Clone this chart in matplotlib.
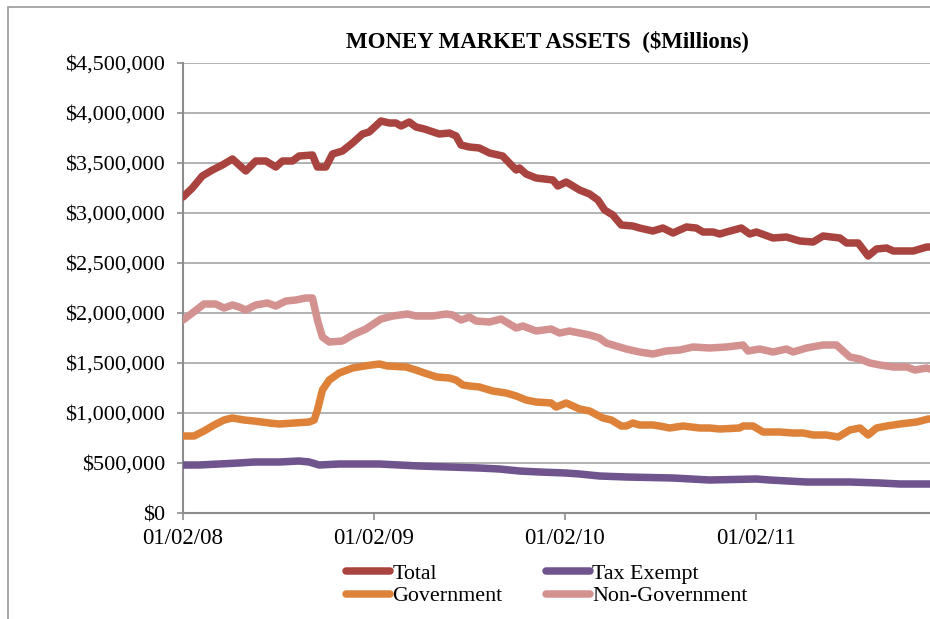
import matplotlib
matplotlib.use("Agg")
import matplotlib.pyplot as plt
from matplotlib.ticker import FuncFormatter, FixedLocator
from matplotlib.patches import Rectangle

plt.rcParams['font.family'] = ['Liberation Serif', 'DejaVu Serif']

# ---------------- data (x = decimal year, y = axis value / 1e6)
title = "MONEY MARKET ASSETS  ($Millions)"
x_ticks = [2008.0, 2009.0, 2010.0, 2011.0]
x_tick_labels = ["01/02/08", "01/02/09", "01/02/10", "01/02/11"]
y_ticks = [0, 0.5, 1.0, 1.5, 2.0, 2.5, 3.0, 3.5, 4.0, 4.5]

total_t = [2008.000, 2008.049, 2008.101, 2008.154, 2008.206, 2008.259, 2008.329, 2008.381,
           2008.434, 2008.486, 2008.521, 2008.573, 2008.608, 2008.678, 2008.704, 2008.748,
           2008.783, 2008.835, 2008.888, 2008.940, 2008.975, 2009.037, 2009.080, 2009.115,
           2009.142, 2009.185, 2009.220, 2009.264, 2009.342, 2009.395, 2009.430, 2009.456,
           2009.500, 2009.552, 2009.605, 2009.674, 2009.709, 2009.745, 2009.762, 2009.797,
           2009.849, 2009.937, 2009.963, 2010.007, 2010.077, 2010.129, 2010.173, 2010.208,
           2010.251, 2010.295, 2010.356, 2010.391, 2010.461, 2010.513, 2010.566, 2010.636,
           2010.688, 2010.723, 2010.776, 2010.811, 2010.846, 2010.924, 2010.968, 2011.003,
           2011.090, 2011.160, 2011.230, 2011.300, 2011.352, 2011.440, 2011.475, 2011.536,
           2011.588, 2011.632, 2011.685, 2011.720, 2011.824, 2011.895, 2011.912]
total_v = [3.16, 3.25, 3.37, 3.43, 3.48, 3.54, 3.42, 3.52,
           3.52, 3.46, 3.52, 3.52, 3.57, 3.58, 3.46, 3.46,
           3.59, 3.62, 3.70, 3.79, 3.81, 3.92, 3.90, 3.90,
           3.87, 3.91, 3.86, 3.84, 3.79, 3.80, 3.77, 3.68,
           3.66, 3.65, 3.60, 3.57, 3.50, 3.43, 3.45, 3.39,
           3.35, 3.33, 3.27, 3.31, 3.23, 3.19, 3.13, 3.03,
           2.98, 2.88, 2.87, 2.85, 2.82, 2.85, 2.80, 2.86,
           2.85, 2.81, 2.81, 2.79, 2.81, 2.85, 2.79, 2.81,
           2.75, 2.76, 2.72, 2.71, 2.77, 2.75, 2.70, 2.70,
           2.57, 2.64, 2.65, 2.62, 2.62, 2.66, 2.66]

taxex_t = [2008.000, 2008.084, 2008.189, 2008.294, 2008.372, 2008.503, 2008.608, 2008.661,
           2008.713, 2008.818, 2008.923, 2009.028, 2009.133, 2009.238, 2009.395, 2009.552,
           2009.657, 2009.762, 2009.867, 2010.003, 2010.077, 2010.181, 2010.321, 2010.566,
           2010.758, 2011.003, 2011.073, 2011.265, 2011.492, 2011.650, 2011.755, 2011.912]
taxex_v = [0.48, 0.48, 0.49, 0.50, 0.51, 0.51, 0.52, 0.51,
           0.48, 0.49, 0.49, 0.49, 0.48, 0.47, 0.46, 0.45,
           0.44, 0.42, 0.41, 0.40, 0.39, 0.37, 0.36, 0.35,
           0.33, 0.34, 0.33, 0.31, 0.31, 0.30, 0.29, 0.29]

gov_t = [2008.000, 2008.058, 2008.110, 2008.163, 2008.215, 2008.257, 2008.320, 2008.372,
         2008.451, 2008.503, 2008.582, 2008.661, 2008.687, 2008.704, 2008.730, 2008.766,
         2008.818, 2008.888, 2008.949, 2009.028, 2009.071, 2009.168, 2009.220, 2009.264,
         2009.329, 2009.395, 2009.430, 2009.465, 2009.500, 2009.552, 2009.622, 2009.692,
         2009.745, 2009.797, 2009.849, 2009.928, 2009.954, 2010.007, 2010.077, 2010.129,
         2010.199, 2010.243, 2010.295, 2010.321, 2010.356, 2010.391, 2010.461, 2010.496,
         2010.548, 2010.583, 2010.618, 2010.706, 2010.758, 2010.811, 2010.915, 2010.933,
         2010.985, 2011.038, 2011.125, 2011.195, 2011.248, 2011.300, 2011.370, 2011.431,
         2011.492, 2011.545, 2011.588, 2011.632, 2011.685, 2011.755, 2011.842, 2011.903, 2011.912]
gov_v = [0.77, 0.77, 0.82, 0.88, 0.93, 0.95, 0.93, 0.92,
         0.90, 0.89, 0.90, 0.91, 0.93, 1.03, 1.23, 1.33,
         1.40, 1.45, 1.47, 1.49, 1.47, 1.46, 1.43, 1.40,
         1.36, 1.35, 1.33, 1.28, 1.27, 1.26, 1.22, 1.20,
         1.17, 1.13, 1.11, 1.10, 1.06, 1.10, 1.04, 1.02,
         0.95, 0.93, 0.87, 0.87, 0.90, 0.88, 0.88, 0.87,
         0.85, 0.86, 0.87, 0.85, 0.85, 0.84, 0.85, 0.87,
         0.87, 0.81, 0.81, 0.80, 0.80, 0.78, 0.78, 0.76,
         0.83, 0.85, 0.78, 0.85, 0.87, 0.89, 0.91, 0.94, 0.94]

nongov_t = [2008.000, 2008.049, 2008.110, 2008.171, 2008.215, 2008.259, 2008.294, 2008.329,
            2008.381, 2008.442, 2008.486, 2008.539, 2008.591, 2008.643, 2008.678, 2008.704,
            2008.730, 2008.766, 2008.835, 2008.888, 2008.958, 2009.037, 2009.098, 2009.176,
            2009.220, 2009.307, 2009.378, 2009.412, 2009.456, 2009.500, 2009.535, 2009.605,
            2009.666, 2009.701, 2009.745, 2009.780, 2009.849, 2009.928, 2009.972, 2010.024,
            2010.129, 2010.181, 2010.216, 2010.286, 2010.321, 2010.391, 2010.461, 2010.531,
            2010.601, 2010.671, 2010.758, 2010.846, 2010.933, 2010.959, 2011.020, 2011.090,
            2011.160, 2011.195, 2011.265, 2011.352, 2011.422, 2011.492, 2011.545, 2011.597,
            2011.650, 2011.720, 2011.790, 2011.833, 2011.895, 2011.912]
nongov_v = [1.93, 2.00, 2.09, 2.09, 2.05, 2.08, 2.06, 2.03,
            2.08, 2.10, 2.07, 2.12, 2.13, 2.15, 2.15, 1.93,
            1.76, 1.71, 1.72, 1.78, 1.84, 1.94, 1.97, 1.99,
            1.97, 1.97, 1.99, 1.98, 1.93, 1.96, 1.92, 1.91,
            1.94, 1.90, 1.85, 1.87, 1.82, 1.84, 1.80, 1.82,
            1.78, 1.75, 1.70, 1.66, 1.64, 1.61, 1.59, 1.62,
            1.63, 1.66, 1.65, 1.66, 1.68, 1.62, 1.64, 1.61,
            1.64, 1.61, 1.65, 1.68, 1.68, 1.56, 1.54, 1.50,
            1.48, 1.46, 1.46, 1.43, 1.45, 1.44]

series = [
    ("Total", total_t, total_v, "#A9433F"),
    ("Government", gov_t, gov_v, "#DD8238"),
    ("Tax Exempt", taxex_t, taxex_v, "#6F548E"),
    ("Non-Government", nongov_t, nongov_v, "#D39290"),
]

# ---------------- figure
fig = plt.figure(figsize=(9.30, 6.19), dpi=100)
fig.patch.set_facecolor("white")
fig.patches.append(Rectangle((8 / 930, -0.05), 1.2, 1 - 7 / 619 + 0.05,
                             transform=fig.transFigure, fill=False,
                             edgecolor="#9A9A9A", linewidth=1.2))

ax = fig.add_axes([183 / 930, 1 - 513 / 619, 1 - 183 / 930, (513 - 63) / 619])

for name, t, v, c in series:
    ax.plot(t, v, color=c, linewidth=5.4, solid_capstyle="round",
            solid_joinstyle="round", label=name, zorder=3)

ax.set_xlim(2008.0, 2011.912)
ax.set_ylim(0, 4.5)
ax.yaxis.set_major_locator(FixedLocator(y_ticks))
ax.yaxis.set_major_formatter(FuncFormatter(lambda v, p: "${:,.0f}".format(v * 1e6)))
ax.set_xticks(x_ticks)
ax.set_xticklabels(x_tick_labels)

ax.grid(axis="y", color="#A6A6A6", linewidth=1.2, zorder=1)
ax.grid(axis="x", visible=False)
for s in ["top", "right"]:
    ax.spines[s].set_visible(False)
for s in ["left", "bottom"]:
    ax.spines[s].set_color("#8C8C8C")
    ax.spines[s].set_linewidth(1.5)
ax.tick_params(axis="y", length=4, width=1.2, color="#8C8C8C", pad=9, labelsize=16)
ax.tick_params(axis="x", length=5, width=1.2, color="#8C8C8C", pad=6, labelsize=16.5)

fig.text(547 / 930, 1 - 41 / 619, title, ha="center", va="center",
         fontsize=16.5, fontweight="bold")

leg = fig.legend(loc="center", bbox_to_anchor=(547 / 930, 1 - 585 / 619), ncol=2,
                 frameon=False, fontsize=15.8, handlelength=2.0, handletextpad=0.1,
                 columnspacing=2.0, labelspacing=0.1, borderaxespad=0)
for line in leg.get_lines():
    line.set_linewidth(5.4)
    line.set_solid_capstyle("round")

fig.savefig("out.png", dpi=100)
